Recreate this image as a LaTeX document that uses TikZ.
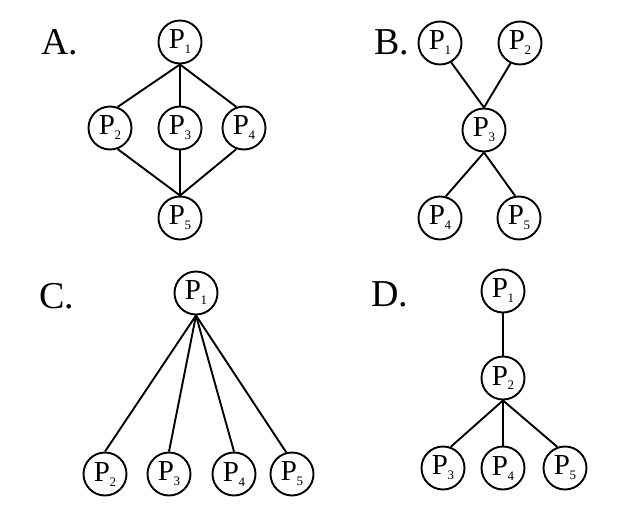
\documentclass[tikz,border=0pt]{standalone}
\usepackage{fontspec}
\setmainfont{Liberation Serif}
\newcommand{\pn}[1]{P\kern-0.5pt\raisebox{-5pt}{\fontsize{13}{13}\selectfont #1}}
\begin{document}
\begin{tikzpicture}[x=1pt,y=-1pt,
  pnode/.style={circle,draw,line width=1.9pt,minimum size=43pt,inner sep=0pt,
    font=\fontsize{29}{29}\selectfont},
  lab/.style={font=\fontsize{38}{38}\selectfont},
  conn/.style={line width=1.9pt}]
\useasboundingbox (0,0) rectangle (630,512);
% A
\node[lab] (la) at (60,42) {A.};
\node[pnode] (a1) at (180,42) {\pn{1}};
\node[pnode] (a2) at (110,128) {\pn{2}};
\node[pnode] (a3) at (180,128) {\pn{3}};
\node[pnode] (a4) at (244,128) {\pn{4}};
\node[pnode] (a5) at (180,218) {\pn{5}};
\draw[conn] (a1.south) -- (a2.70);
\draw[conn] (a1.south) -- (a3.north);
\draw[conn] (a1.south) -- (a4.110);
\draw[conn] (a2.290) -- (a5.north);
\draw[conn] (a3.south) -- (a5.north);
\draw[conn] (a4.250) -- (a5.north);
% B
\node[lab] (lb) at (392,42) {B.};
\node[pnode] (b1) at (440,43) {\pn{1}};
\node[pnode] (b2) at (520,43) {\pn{2}};
\node[pnode] (b3) at (484,130) {\pn{3}};
\node[pnode] (b4) at (440,218) {\pn{4}};
\node[pnode] (b5) at (519,218) {\pn{5}};
\draw[conn] (b1.300) -- (b3.north);
\draw[conn] (b2.245) -- (b3.north);
\draw[conn] (b3.south) -- (b4.75);
\draw[conn] (b3.south) -- (b5.100);
% C
\node[lab] (lc) at (57,296) {C.};
\node[pnode] (c1) at (196,293) {\pn{1}};
\node[pnode] (c2) at (105,474) {\pn{2}};
\node[pnode] (c3) at (169,474) {\pn{3}};
\node[pnode] (c4) at (234,474) {\pn{4}};
\node[pnode] (c5) at (292,474) {\pn{5}};
\draw[conn] (c1.south) -- (c2.north);
\draw[conn] (c1.south) -- (c3.north);
\draw[conn] (c1.south) -- (c4.north);
\draw[conn] (c1.south) -- (c5.105);
% D
\node[lab] (ld) at (390,294) {D.};
\node[pnode] (d1) at (503,291) {\pn{1}};
\node[pnode] (d2) at (503,378) {\pn{2}};
\node[pnode] (d3) at (443,468) {\pn{3}};
\node[pnode] (d4) at (503,468) {\pn{4}};
\node[pnode] (d5) at (565,468) {\pn{5}};
\draw[conn] (d1.south) -- (d2.north);
\draw[conn] (d2.south) -- (d3.70);
\draw[conn] (d2.south) -- (d4.north);
\draw[conn] (d2.south) -- (d5.110);
\end{tikzpicture}
\end{document}
